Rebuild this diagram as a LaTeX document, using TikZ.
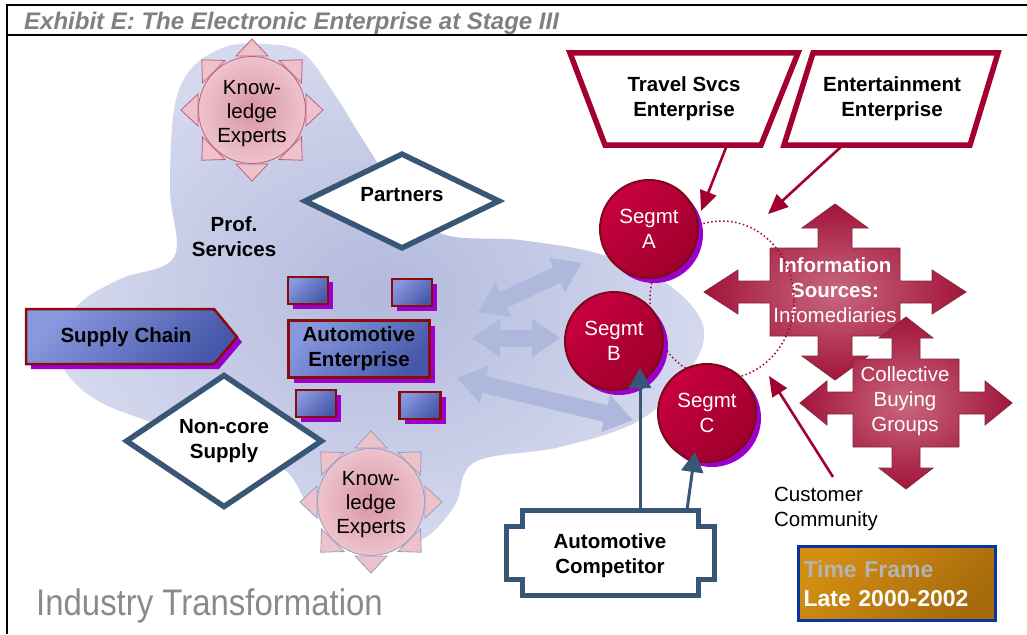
\documentclass[tikz,border=0pt]{standalone}
\usepackage{fontspec}
\usepackage{graphicx}
\setmainfont{Liberation Sans}
\usetikzlibrary{arrows.meta,shapes.geometric,shadows}

\definecolor{titlegrey}{HTML}{808080}
\definecolor{blobin}{HTML}{B2B9DC}
\definecolor{blobout}{HTML}{D5D9EE}
\definecolor{flowblue}{HTML}{AEB7DC}
\definecolor{petalfill}{HTML}{EEC2CB}
\definecolor{pinkin}{HTML}{D894A6}
\definecolor{pinkout}{HTML}{EDC3CC}
\definecolor{pinkedge}{HTML}{C25C7C}
\definecolor{greyedge}{HTML}{9C9CBC}
\definecolor{slate}{HTML}{3A5676}
\definecolor{boxlight}{HTML}{8898DE}
\definecolor{boxdark}{HTML}{4657A9}
\definecolor{boxedge}{HTML}{8B0A0A}
\definecolor{shadowpurple}{HTML}{9B00CC}
\definecolor{segtop}{HTML}{C8003F}
\definecolor{segbottom}{HTML}{9E002C}
\definecolor{segedge}{HTML}{7A0A16}
\definecolor{crimson}{HTML}{A4002F}
\definecolor{crossin}{HTML}{C9687F}
\definecolor{crossout}{HTML}{A3143A}
\definecolor{crossedge}{HTML}{7E2A40}
\definecolor{amberlight}{HTML}{D48E12}
\definecolor{amberdark}{HTML}{A66A0C}
\definecolor{tfblue}{HTML}{0A34A0}
\definecolor{tfgrey}{HTML}{B4B4B4}
\definecolor{indgrey}{HTML}{8A8A8A}

% four-headed arrow around (0,0): box w/h, apex x/y, head base x/y, shaft and head half width
\newcommand{\quadarrow}[8]{%
    (0,-#4) -- (#8,-#6) -- (#7,-#6) -- (#7,-#2) -- (#1,-#2) -- (#1,-11) -- (#5,-11) -- (#5,-22) -- (#3,0)
    -- (#5,22) -- (#5,11) -- (#1,11) -- (#1,#2) -- (#7,#2) -- (#7,#6) -- (#8,#6) -- (0,#4)
    -- (-#8,#6) -- (-#7,#6) -- (-#7,#2) -- (-#1,#2) -- (-#1,11) -- (-#5,11) -- (-#5,22) -- (-#3,0)
    -- (-#5,-22) -- (-#5,-11) -- (-#1,-11) -- (-#1,-#2) -- (-#7,-#2) -- (-#7,-#6) -- (-#8,-#6) -- cycle}

\begin{document}
\begin{tikzpicture}[x=1pt, y=-1pt,
    lbl/.style={font=\fontsize{20.5}{25}\selectfont\bfseries, align=center, inner sep=0pt},
    txt/.style={font=\fontsize{20.5}{25}\selectfont, align=center, inner sep=0pt},
    frameline/.style={draw=black, line width=2.5pt},
    petal/.style={fill=petalfill, draw=#1, line width=0.8pt},
    expert/.style={circle, minimum size=107pt, inner color=pinkin, outer color=pinkout,
        draw=#1, line width=0.8pt},
    outline/.style={diamond, draw=slate, line width=5.5pt, fill=white, inner sep=0pt},
    boxshadow/.style={drop shadow={shadow xshift=5pt, shadow yshift=-5pt, fill=shadowpurple, opacity=1}},
    bluefill/.style={draw=boxedge, line width=2.5pt, top color=boxlight, bottom color=boxdark,
        shading angle=45, boxshadow},
    bluebox/.style={rectangle, bluefill, inner sep=0pt},
    segment/.style={circle, minimum size=98pt, inner sep=0pt, draw=segedge, line width=2pt,
        top color=segtop, bottom color=segbottom, shading angle=45, boxshadow, txt, text=white},
    flow/.style={draw=flowblue, line width=17pt,
        {Triangle[length=28pt, width=38pt, line width=0pt]}-{Triangle[length=28pt, width=38pt, line width=0pt]}},
    quad/.style={inner color=crossin, outer color=crossout, draw=crossedge, line width=0.8pt},
    enterprise/.style={draw=crimson, line width=5.5pt, fill=white},
    redarrow/.style={draw=crimson, line width=2.6pt, -{Triangle[length=20pt, width=17pt]}},
    slatearrow/.style={draw=slate, line width=3pt, -{Triangle[length=20pt, width=22pt]}},
]
\useasboundingbox (0,0) rectangle (1027,634);

    % title bar
    \draw[frameline] (1027,5) -- (7,5) -- (7,634);
    \draw[frameline] (7,35) -- (1027,35);
    \node[anchor=base west, inner sep=0pt, text=titlegrey,
        font=\fontsize{24}{28}\selectfont\bfseries\itshape] (title) at (24,30)
        {Exhibit E: The Electronic Enterprise at Stage III};

    % enterprise cloud
    \shade[inner color=blobin, outer color=blobout] plot[smooth cycle, tension=0.6] coordinates {
        (58,345) (78,305) (120,279) (174,257) (170,190) (174,110) (190,70) (225,47) (265,44)
        (303,53) (335,95) (363,140) (395,187) (440,233) (520,240) (600,254) (665,282) (703,325)
        (690,370) (640,420) (560,447) (475,462) (455,505) (425,538) (385,549) (340,538)
        (310,508) (285,470) (235,448) (160,425) (100,402) (68,375)};

    % knowledge experts
    \foreach \a in {0,45,...,315}
        \draw[petal=pinkedge, shift={(252,110)}, rotate=\a] (54,-16) -- (71,0) -- (54,16) -- cycle;
    \node[expert=pinkedge] (ke1) at (252,110) {};
    \node[txt, font=\fontsize{20.5}{24}\selectfont] (ke1lbl) at ([yshift=-4pt]ke1.center) {Know-\\ledge\\Experts};
    \foreach \a in {0,45,...,315}
        \draw[petal=greyedge, shift={(371,502)}, rotate=\a] (54,-16) -- (71,0) -- (54,16) -- cycle;
    \node[expert=greyedge] (ke2) at (371,502) {};
    \node[txt, font=\fontsize{20.5}{24}\selectfont] (ke2lbl) at ([yshift=-3pt]ke2.center) {Know-\\ledge\\Experts};

    \node[outline, minimum width=196pt, minimum height=96pt] (partners) at (402,201) {};
    \node[lbl] (partnerslbl) at ([yshift=6pt]partners.center) {Partners};
    \node[outline, minimum width=197pt, minimum height=116pt, lbl] (noncore) at (224,441) {Non-core\\Supply};
    \node[lbl] (prof) at (234,237) {Prof.\\Services};

    % flows to the segments
    \coordinate (f1a) at (478,312); \coordinate (f1b) at (582,263);
    \coordinate (f2a) at (472,338); \coordinate (f2b) at (560,338);
    \coordinate (f3a) at (457,378); \coordinate (f3b) at (633,420);
    \draw[flow] (f1a) -- (f1b);
    \draw[flow] (f2a) -- (f2b);
    \draw[flow] (f3a) -- (f3b);

    \path[bluefill] (26,309) -- (214,309) -- (237,337) -- (214,364) -- (26,364) -- cycle;
    \node[lbl] (supply) at (126,337) {Supply Chain};
    \node[bluebox, minimum width=141pt, minimum height=57pt, lbl] (auto) at (359,349) {Automotive\\Enterprise};
    \node[bluebox, minimum width=40pt, minimum height=27pt] (sq1) at (308,290.5) {};
    \node[bluebox, minimum width=40pt, minimum height=27pt] (sq2) at (412,292.5) {};
    \node[bluebox, minimum width=40pt, minimum height=27pt] (sq3) at (316,403.5) {};
    \node[bluebox, minimum width=41pt, minimum height=27pt] (sq4) at (420,405.5) {};

    % information sources and buying groups
    \path[quad, shift={(835,292)}] \quadarrow{65}{44}{131}{88}{97}{64}{17}{33};
    \node[txt, text=white] (info) at (835,290) {\textbf{Information}\\\textbf{Sources:}\\Infomediaries};
    \path[quad, shift={(906,403)}] \quadarrow{53}{44}{106}{86}{79}{65}{14}{27};
    \node[txt, text=white] (buying) at (905,401) {Collective\\Buying\\Groups};

    % customer segments
    \node[ellipse, draw=crimson, line width=1.5pt, dash pattern=on 1.5pt off 2.5pt,
        minimum width=144pt, minimum height=158pt] (community) at (722,300) {};
    \node[segment] (segA) at (649,229) {Segmt\\A};
    \node[segment] (segB) at (614,341) {Segmt\\B};
    \node[segment] (segC) at (707,413) {Segmt\\C};

    % other enterprises
    \draw[enterprise] (570,53) -- (798,53) -- (761,145) -- (605,145) -- cycle;
    \node[lbl] (travel) at (684,99) {Travel Svcs\\Enterprise};
    \draw[enterprise] (813,53) -- (998,53) -- (970,145) -- (784,145) -- cycle;
    \node[lbl] (ent) at (892,99) {Entertainment\\Enterprise};
    \coordinate (travelfoot) at (727,145);
    \coordinate (entfoot) at (843,145);
    \coordinate (tipA) at (701,211);
    \coordinate (tipTop) at (768,214);
    \draw[redarrow] (travelfoot) -- (tipA);
    \draw[redarrow] (entfoot) -- (tipTop);

    % competitor
    \draw[draw=slate, line width=5pt, fill=white] (522,510) -- (698,510) -- (698,526) -- (714,526)
        -- (714,579) -- (698,579) -- (698,595) -- (522,595) -- (522,579) -- (506,579)
        -- (506,526) -- (522,526) -- cycle;
    \node[lbl] (competitor) at (610,556) {Automotive\\Competitor};
    \coordinate (compB) at (640,510);
    \coordinate (compC) at (687,510);
    \coordinate (tipB) at (640,368);
    \coordinate (tipC) at (695,452);
    \draw[slatearrow] (compB) -- (tipB);
    \draw[slatearrow] (compC) -- (tipC);

    \node[txt, align=left] (customer) at (826,509) {Customer\\Community};
    \coordinate (custfoot) at (833,477);
    \coordinate (tipBottom) at (769,376);
    \draw[redarrow] (custfoot) -- (tipBottom);

    \node[draw=tfblue, line width=2.5pt, top color=amberlight, bottom color=amberdark, shading angle=45,
        minimum width=197pt, minimum height=74pt, text width=187pt, align=left, text=white,
        font=\fontsize{23}{29}\selectfont\bfseries] (timeframe) at (897,583.5)
        {\textcolor{tfgrey}{Time Frame}\\Late 2000-2002};

    \node[anchor=base west, inner sep=0pt, text=indgrey, font=\fontsize{37}{40}\selectfont] (industry)
        at (36,615) {\scalebox{0.89}[1]{Industry Transformation}};

\end{tikzpicture}
\end{document}
